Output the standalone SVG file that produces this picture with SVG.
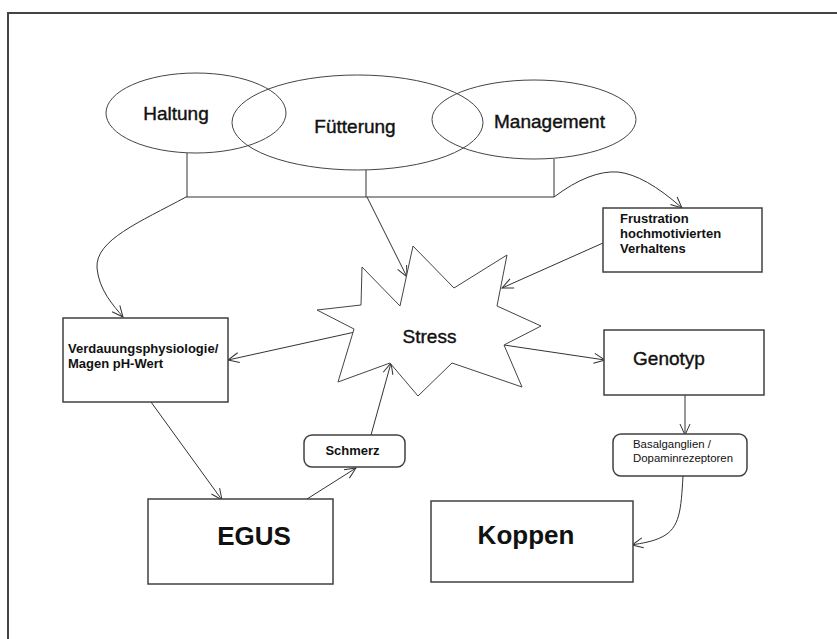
<svg xmlns="http://www.w3.org/2000/svg" width="837" height="639" viewBox="0 0 837 639">
<defs>
<marker id="ah" markerWidth="14" markerHeight="12" refX="12" refY="6" orient="auto" markerUnits="userSpaceOnUse"><path d="M1,1 L12,6 L1,11" fill="none" stroke="#333" stroke-width="1"/></marker>
</defs>
<style>
.box{fill:#fff;stroke:#404040;stroke-width:1.5}
.ell{fill:none;stroke:#444;stroke-width:1}
.ln{fill:none;stroke:#333;stroke-width:1}
.arr{fill:none;stroke:#333;stroke-width:1;marker-end:url(#ah)}
text{font-family:"Liberation Sans",Arial,sans-serif;fill:#111}
.big{font-size:19px;stroke:#111;stroke-width:0.4}
.b13{font-size:13px;font-weight:bold}
.huge{font-size:26px;font-weight:bold}
.small{font-size:11.4px}
</style>
<rect width="837" height="639" fill="#fff"/>
<path d="M8,639 V13 H837" fill="none" stroke="#444" stroke-width="2"/>

<g id="connectors">
<path class="ln" d="M187,153 V197 M366,170 V197 M554,159 V197 M186,197 H554"/>
<path class="arr" d="M186,197 C140,222 95,240 97,268 C99,290 113,305 123,317"/>
<path class="arr" d="M367,197 L407,277"/>
<path class="arr" d="M554,197 Q590,170 618,172 Q645,175 682,208"/>
<path class="arr" d="M603,243 L502,288"/>
<path class="arr" d="M355,332 L228,360"/>
<path class="arr" d="M504,345 L605,360"/>
<path class="arr" d="M685,395 V435"/>
<path class="arr" d="M683,476 C681,510 680,528 662,537 C652,542 642,543 632,545"/>
<path class="arr" d="M151,402 L222,500"/>
<path class="arr" d="M307,499 L356,468"/>
<path class="arr" d="M371,435 L391,363"/>
</g>

<g id="haltung">
<ellipse class="ell" cx="196" cy="113" rx="90" ry="40"/>
<text class="big" x="176" y="120" text-anchor="middle">Haltung</text>
</g>
<g id="fuetterung">
<ellipse class="ell" cx="357.5" cy="122.5" rx="125.5" ry="47.5"/>
<text class="big" x="355" y="133" text-anchor="middle">Fütterung</text>
</g>
<g id="management">
<ellipse class="ell" cx="534" cy="119.5" rx="102" ry="39.5"/>
<text class="big" x="549.5" y="128" text-anchor="middle">Management</text>
</g>

<g id="frustration">
<rect class="box" x="603" y="208" width="159" height="64"/>
<text class="b13" x="620" y="223">Frustration</text>
<text class="b13" x="620" y="238">hochmotivierten</text>
<text class="b13" x="620" y="253">Verhaltens</text>
</g>

<g id="stress">
<polygon fill="#fff" stroke="#444" stroke-width="1" points="413,246 454,288 507,255 497,306 541,326 504,345 522,387 452,363 418,396 390,363 338,382 354,329 317,310 361,305 362,267 400,306"/>
<text class="big" x="429.5" y="343" text-anchor="middle">Stress</text>
</g>

<g id="verdauung">
<rect class="box" x="63" y="318" width="165" height="84"/>
<text class="b13" x="68" y="353">Verdauungsphysiologie/</text>
<text class="b13" x="68" y="368">Magen pH-Wert</text>
</g>

<g id="genotyp">
<rect class="box" x="604" y="330" width="160" height="65"/>
<text class="big" x="669" y="365" text-anchor="middle">Genotyp</text>
</g>

<g id="basalganglien">
<rect class="box" x="613" y="434" width="134" height="42" rx="8"/>
<text class="small" x="633" y="448">Basalganglien /</text>
<text class="small" x="633" y="462">Dopaminrezeptoren</text>
</g>

<g id="schmerz">
<rect class="box" x="304" y="435" width="101" height="32" rx="8"/>
<text class="b13" x="352.5" y="455" text-anchor="middle">Schmerz</text>
</g>

<g id="egus">
<rect class="box" x="148" y="499" width="185" height="85"/>
<text class="huge" x="254" y="545" text-anchor="middle">EGUS</text>
</g>

<g id="koppen">
<rect class="box" x="431" y="501" width="202" height="81"/>
<text class="huge" x="526" y="544" text-anchor="middle">Koppen</text>
</g>
</svg>
